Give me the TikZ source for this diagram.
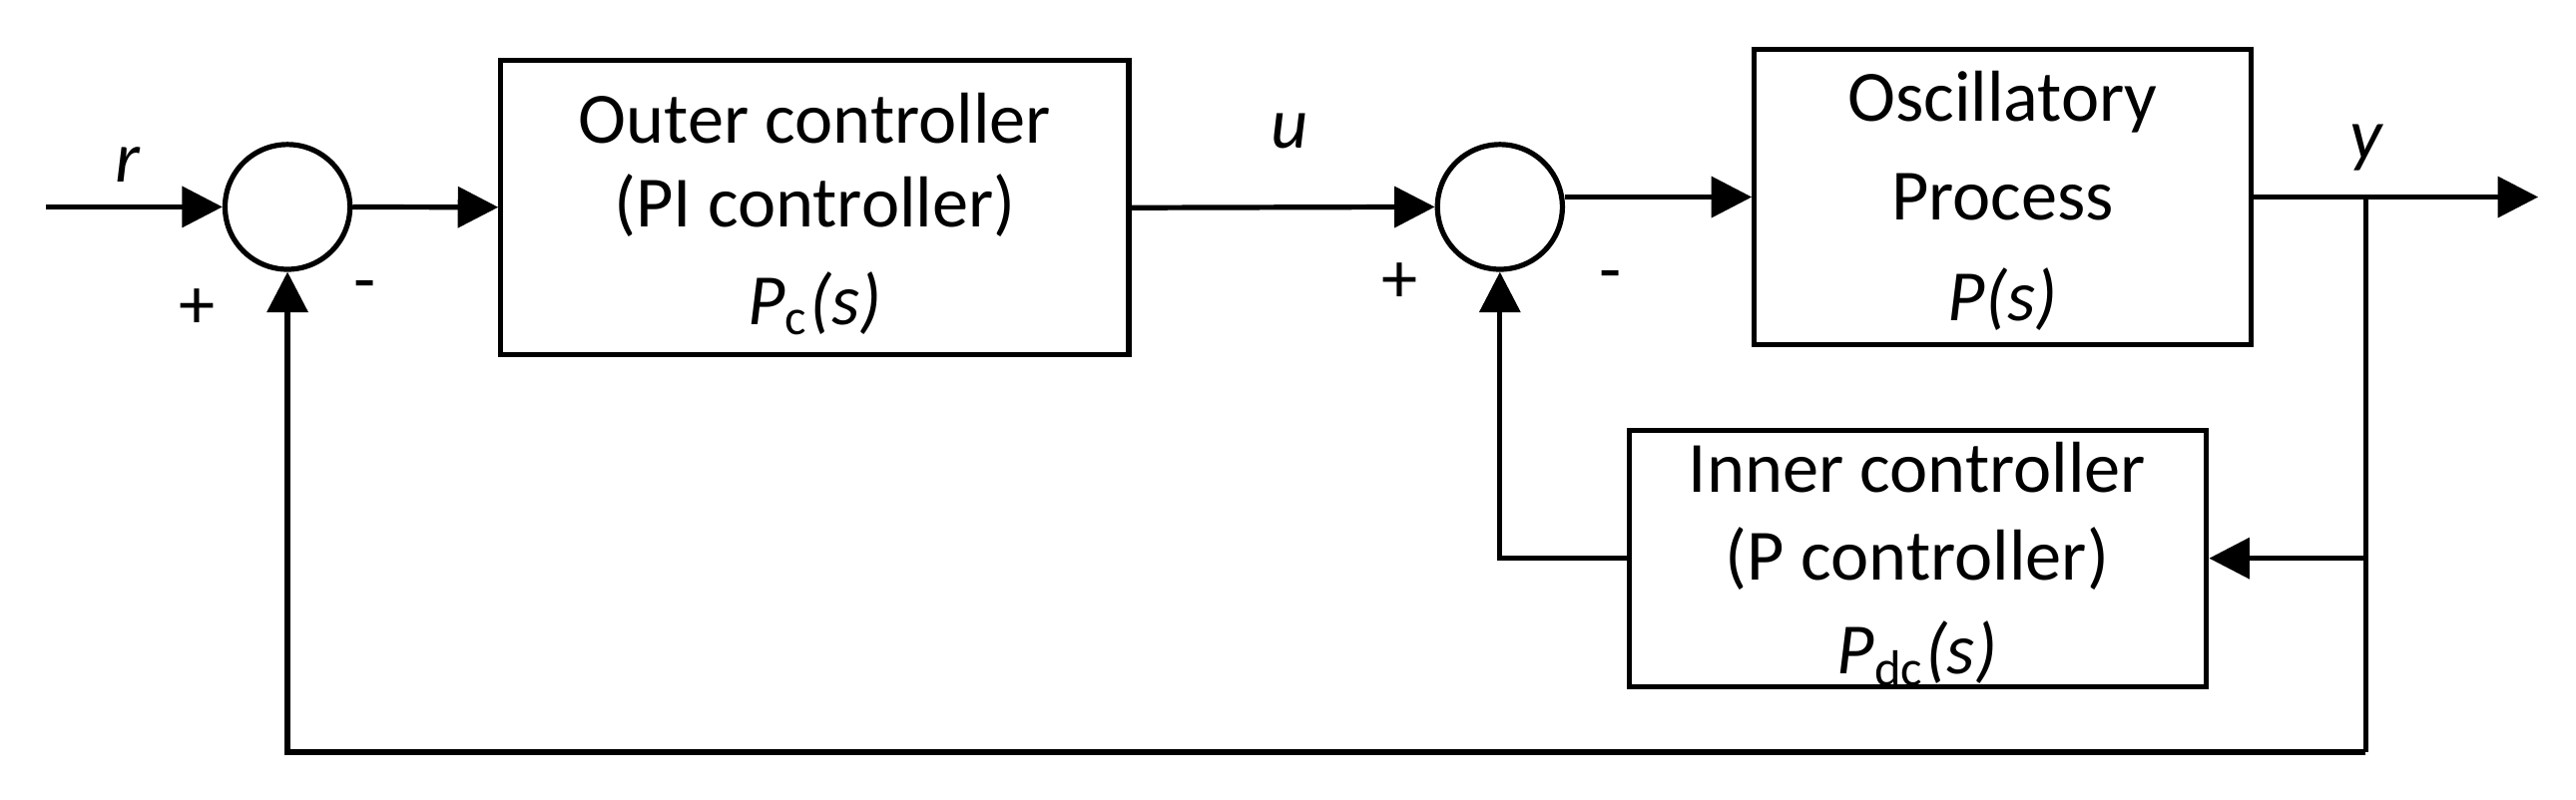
\documentclass[tikz,border=0pt]{standalone}
\usepackage{fontspec}
\setmainfont{Carlito}
\usetikzlibrary{arrows.meta}
\begin{document}
\begin{tikzpicture}[x=0.01cm,y=-0.01cm,
  every node/.style={font=\fontsize{12.5}{14.5}\selectfont},
  blk/.style={draw,line width=0.9pt,inner sep=0pt},
  sum/.style={draw,circle,line width=0.9pt,minimum size=0.76cm,inner sep=0pt},
  lbl/.style={inner sep=0pt},
  ln/.style={line width=0.9pt},
  arr/.style={ln,-{Triangle[length=7pt,width=7pt]}}]
\useasboundingbox (0,0) rectangle (1568,487);
\node[sum] (s1) at (175,126) {};
\node[sum] (s2) at (913,126) {};
\node[blk,minimum width=3.82cm,minimum height=1.79cm] (outer) at (496,126.5) {};
\node[blk,minimum width=3.02cm,minimum height=1.8cm] (proc) at (1219,120) {};
\node[blk,minimum width=3.51cm,minimum height=1.56cm] (inner) at (1167.5,340) {};
\node[lbl] at (496,72) {Outer controller};
\node[lbl] at (496,125) {(PI controller)};
\node[lbl] at (496,185) {\itshape P\textsubscript{\upshape c}(s)};
\node[lbl] at (1219,62) {Oscillatory};
\node[lbl] at (1219,120) {Process};
\node[lbl] at (1219,182) {\itshape P(s)};
\node[lbl] at (1167,285) {Inner controller};
\node[lbl] at (1167,340) {(P controller)};
\node[lbl] at (1167,398) {\itshape P\textsubscript{\upshape dc}(s)};
\node[lbl] at (78,100) {\itshape r};
\node[lbl] at (785,80) {\itshape u};
\node[lbl] at (1440,90) {\itshape y};
\node[lbl] at (120,188) {+};
\node[lbl] at (222,178) {-};
\node[lbl] at (852,172) {+};
\node[lbl] at (980,172) {-};
\coordinate (in) at (28,126);
\coordinate (out) at (1545,120);
\coordinate (br) at (1440,120);
\coordinate (brm) at (1440,340);
\coordinate (brb) at (1440,458);
\coordinate (bl) at (175,458);
\coordinate (il) at (913,340);
\draw[arr] (in) -- (s1);
\draw[arr] (s1) -- (outer);
\draw[arr] (outer.east) -- (s2.west);
\draw[arr] (s2.east |- proc.west) -- (proc.west);
\draw[arr] (proc.east) -- (out);
\draw[ln] (br) -- (brb);
\draw[arr] (brm) -- (inner.east);
\draw[arr] (inner.west) -- (il) -- (s2.south);
\draw[arr] (brb) -- (bl) -- (s1.south);
\end{tikzpicture}
\end{document}
